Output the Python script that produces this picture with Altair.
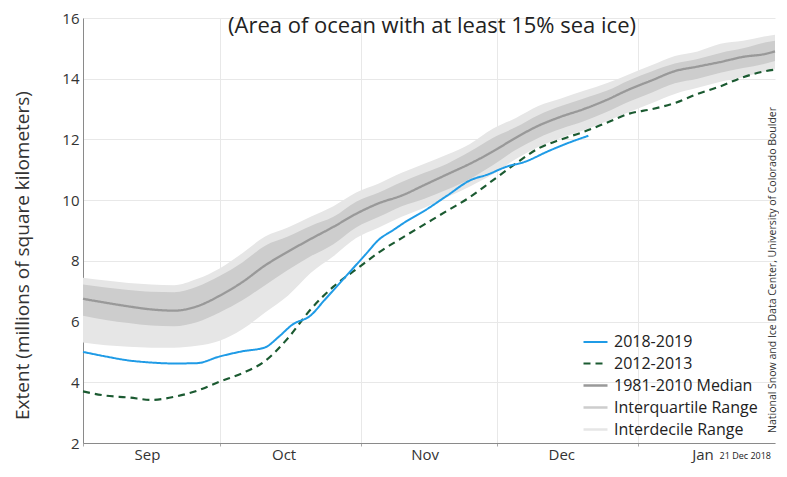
import altair as alt
import pandas as pd

# ---------------- data ----------------
clim_dates = [
    "2018-09-01", "2018-09-06", "2018-09-11", "2018-09-16", "2018-09-21", "2018-09-26",
    "2018-10-01", "2018-10-06", "2018-10-11", "2018-10-16", "2018-10-21", "2018-10-26", "2018-10-31",
    "2018-11-05", "2018-11-10", "2018-11-15", "2018-11-20", "2018-11-25", "2018-11-30",
    "2018-12-05", "2018-12-10", "2018-12-15", "2018-12-20", "2018-12-25", "2018-12-30",
    "2019-01-04", "2019-01-09", "2019-01-14", "2019-01-19", "2019-01-24", "2019-01-29", "2019-01-31",
]
median = [6.75, 6.62, 6.50, 6.40, 6.36, 6.50,
          6.85, 7.30, 7.85, 8.30, 8.72, 9.12, 9.55,
          9.90, 10.15, 10.50, 10.85, 11.20, 11.60,
          12.05, 12.45, 12.75, 13.00, 13.30, 13.65,
          13.95, 14.25, 14.40, 14.55, 14.72, 14.82, 14.90]
p90 = [7.44, 7.35, 7.27, 7.22, 7.20, 7.40,
       7.75, 8.25, 8.80, 9.10, 9.45, 9.80, 10.25,
       10.55, 10.90, 11.20, 11.50, 11.85, 12.35,
       12.70, 13.10, 13.35, 13.60, 13.85, 14.15,
       14.45, 14.75, 14.90, 15.15, 15.25, 15.40, 15.45]
p75 = [7.22, 7.12, 7.04, 6.98, 6.97, 7.15,
       7.50, 7.95, 8.50, 8.80, 9.15, 9.45, 9.95,
       10.25, 10.60, 10.90, 11.20, 11.60, 12.05,
       12.40, 12.80, 13.10, 13.35, 13.60, 13.95,
       14.25, 14.50, 14.65, 14.85, 15.00, 15.20, 15.25]
p25 = [6.19, 6.05, 5.95, 5.87, 5.85, 5.98,
       6.30, 6.70, 7.20, 7.70, 8.15, 8.55, 9.10,
       9.45, 9.80, 10.05, 10.35, 10.70, 11.15,
       11.65, 12.05, 12.35, 12.60, 12.90, 13.25,
       13.55, 13.85, 14.00, 14.20, 14.35, 14.50, 14.58]
p10 = [5.31, 5.22, 5.17, 5.14, 5.14, 5.20,
       5.37, 5.75, 6.30, 6.85, 7.60, 8.15, 8.75,
       9.10, 9.45, 9.75, 10.10, 10.45, 10.85,
       11.35, 11.75, 12.05, 12.30, 12.60, 12.90,
       13.20, 13.50, 13.70, 13.90, 14.05, 14.25, 14.31]
ext_2012 = [3.70, 3.56, 3.50, 3.42, 3.52, 3.72,
            4.02, 4.30, 4.70, 5.45, 6.40, 7.15, 7.72,
            8.28, 8.75, 9.20, 9.65, 10.10, 10.65,
            11.20, 11.70, 12.00, 12.25, 12.55, 12.85,
            13.00, 13.20, 13.50, 13.75, 14.05, 14.25, 14.30]

dates_2018 = [
    "2018-09-01", "2018-09-06", "2018-09-11", "2018-09-16", "2018-09-21", "2018-09-26",
    "2018-10-01", "2018-10-06", "2018-10-11", "2018-10-14", "2018-10-17", "2018-10-21",
    "2018-10-24", "2018-10-27", "2018-10-30", "2018-11-02", "2018-11-05", "2018-11-08",
    "2018-11-11", "2018-11-15", "2018-11-20", "2018-11-25", "2018-11-29", "2018-12-03",
    "2018-12-07", "2018-12-12", "2018-12-16", "2018-12-21",
]
ext_2018 = [5.00, 4.85, 4.72, 4.65, 4.62, 4.63,
            4.85, 5.02, 5.15, 5.50, 5.90, 6.20,
            6.70, 7.20, 7.70, 8.20, 8.70, 9.00,
            9.30, 9.65, 10.15, 10.65, 10.85, 11.10,
            11.26, 11.60, 11.85, 12.12]

labels = ["2018-2019", "2012-2013", "1981-2010 Median", "Interquartile Range", "Interdecile Range"]
colors = ["#1f9be6", "#1b5a31", "#999999", "#cdcdcd", "#e6e6e6"]
dashes = [[1, 0], [7, 5], [1, 0], [1, 0], [1, 0]]
widths = [2, 2.6, 1.8, 6, 6]

month_ticks = [alt.DateTime(year=2018, month=m, date=1) for m in (9, 10, 11, 12)] + \
              [alt.DateTime(year=2019, month=1, date=1)]
y_ticks = [2, 4, 6, 8, 10, 12, 14, 16]

title_text = "(Area of ocean with at least 15% sea ice)"
y_title = "Extent (millions of square kilometers)"
credit_text = "National Snow and Ice Data Center, University of Colorado Boulder"
date_text = "21 Dec 2018"

FONT = "Open Sans"

# ---------------- tables ----------------
def ts(d):
    return d + "T00:00:00"

clim = pd.DataFrame({"date": [ts(d) for d in clim_dates], "p10": p10, "p25": p25,
                     "p75": p75, "p90": p90, "median": median, "e2012": ext_2012})
med = pd.DataFrame({"date": clim["date"], "value": clim["median"], "series": labels[2]})
l2012 = pd.DataFrame({"date": clim["date"], "value": clim["e2012"], "series": labels[1]})
l2018 = pd.DataFrame({"date": [ts(d) for d in dates_2018], "value": ext_2018,
                      "series": labels[0]})

# ---------------- encodings ----------------
x_enc = alt.X(
    "date:T",
    scale=alt.Scale(domain=[alt.DateTime(year=2018, month=9, date=1),
                            alt.DateTime(year=2019, month=1, date=31)]),
    axis=alt.Axis(values=month_ticks, format="%b", labelOffset=64, title=None,
                  grid=True, gridColor="#e8e8e8", gridWidth=1,
                  tickSize=3, tickColor="#aaaaaa", domainColor="#8a8a8a",
                  labelFont=FONT, labelFontSize=15, labelColor="#333333",
                  labelPadding=1, labelFlush=False, labelOverlap=False),
)
y_axis = alt.Axis(values=y_ticks, title=y_title, grid=True, gridColor="#e8e8e8",
                  ticks=False, domainColor="#8a8a8a", labelFont=FONT,
                  labelFontSize=15, labelColor="#333333", labelPadding=4,
                  titleFont=FONT, titleFontSize=19, titleFontWeight="normal",
                  titleColor="#333333", titleX=-61, titleY=237,
                  titleBaseline="middle", titleAngle=270)
y_scale = alt.Scale(domain=[2, 16], nice=False, zero=False)

legend = alt.Legend(title=None, orient="none", legendX=499, legendY=311,
                    symbolType="stroke", symbolSize=576, labelFont=FONT,
                    labelFontSize=16, labelColor="#222222", labelOffset=5,
                    rowPadding=-1)

color_enc = alt.Color("series:N", scale=alt.Scale(domain=labels, range=colors),
                      legend=legend)
dash_enc = alt.StrokeDash("series:N", scale=alt.Scale(domain=labels, range=dashes),
                          legend=legend)
width_enc = alt.StrokeWidth("series:N", scale=alt.Scale(domain=labels, range=widths),
                            legend=legend)

band_idr = alt.Chart(clim).mark_area(opacity=1, color=colors[4], interpolate="monotone").encode(
    x=x_enc, y=alt.Y("p10:Q", scale=y_scale, axis=y_axis), y2="p90:Q")
band_iqr = alt.Chart(clim).mark_area(opacity=1, color=colors[3], interpolate="monotone").encode(
    x=x_enc, y=alt.Y("p25:Q", scale=y_scale, axis=y_axis), y2="p75:Q")

def line_layer(df):
    return alt.Chart(df).mark_line(interpolate="monotone").encode(
        x=x_enc, y=alt.Y("value:Q", scale=y_scale, axis=y_axis),
        color=color_enc, strokeDash=dash_enc, strokeWidth=width_enc)

line_med = line_layer(med)
line_2012 = line_layer(l2012)
line_2018 = line_layer(l2018)

title_mark = alt.Chart(pd.DataFrame({"t": [title_text]})).mark_text(
    font=FONT, fontSize=22, color="#222222", align="center", baseline="alphabetic"
).encode(text="t:N", x=alt.value(349), y=alt.value(15))

credit_mark = alt.Chart(pd.DataFrame({"t": [credit_text]})).mark_text(
    font=FONT, fontSize=10.5, color="#333333", align="center", baseline="middle", angle=270
).encode(text="t:N", x=alt.value(690), y=alt.value(252))

date_mark = alt.Chart(pd.DataFrame({"t": [date_text]})).mark_text(
    font=FONT, fontSize=9, color="#222222", align="right", baseline="alphabetic"
).encode(text="t:N", x=alt.value(688), y=alt.value(441))

chart = alt.layer(
    band_idr, band_iqr, line_med, line_2012, line_2018,
    title_mark, credit_mark, date_mark
).properties(
    width=692, height=425,
    padding={"left": 75, "top": 10, "right": 4, "bottom": 20},
    autosize=alt.AutoSizeParams(type="none"),
).configure_view(stroke=None)

chart.save("out.html", embed_options={"renderer": "svg", "actions": False})
